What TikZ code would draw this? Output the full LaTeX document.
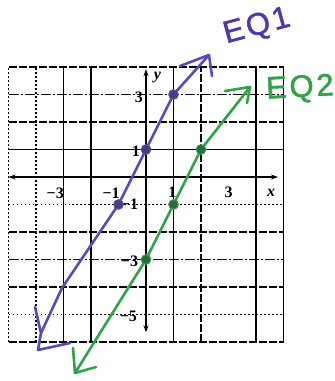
\documentclass[tikz,border=0pt]{standalone}
\usepackage{fontspec}
\setmainfont{Liberation Serif}
\newfontfamily\handfont[FakeBold=1.6,LetterSpace=9]{Liberation Sans}
\usetikzlibrary{arrows.meta}
\definecolor{eqone}{RGB}{82,76,188}
\definecolor{eqonelab}{RGB}{80,56,168}
\definecolor{eqtwo}{RGB}{48,162,72}
\definecolor{dotone}{RGB}{72,62,118}
\definecolor{dottwo}{RGB}{42,108,58}
\tikzset{
  gridsolid/.style={line width=1.4pt,black},
  griddash/.style={line width=1.4pt,black,dash pattern=on 8pt off 2pt},
  griddashdot/.style={line width=1.4pt,black,dash pattern=on 10pt off 2pt on 2pt off 2pt},
  griddot/.style={line width=1.2pt,black,dash pattern=on 1.6pt off 2.4pt},
  axisline/.style={line width=1.9pt,black,{Stealth[length=7pt,width=5pt]}-{Stealth[length=7pt,width=5pt]}},
  ticklab/.style={font=\fontsize{16}{16}\selectfont\bfseries,inner sep=0pt},
  axislab/.style={font=\fontsize{16}{16}\selectfont\bfseries\itshape,inner sep=0pt},
  dotA/.style={circle,fill=dotone,draw=eqone,line width=0.8pt,minimum size=9.5pt,inner sep=0pt},
  dotB/.style={circle,fill=dottwo,draw=eqtwo,line width=0.8pt,minimum size=9.5pt,inner sep=0pt},
  handone/.style={line width=2.6pt,eqone,line cap=round,line join=round},
  handtwo/.style={line width=2.6pt,eqtwo,line cap=round,line join=round},
  handlab/.style={font=\handfont\fontsize{31}{31}\selectfont,inner sep=0pt},
}
\begin{document}
\begin{tikzpicture}[x=1pt,y=-1pt]
\useasboundingbox (0,0) rectangle (335,381);
\fill[white] (0,0) rectangle (335,381);
\begin{scope}[shift={(146,177)},x=27.5pt,y=27.5pt]
  % vertical grid lines
  \draw[griddot] (-5,-6) -- (-5,4);
  \draw[griddot] (-4,-6) -- (-4,4);
  \draw[gridsolid] (-3,-6) -- (-3,4);
  \draw[gridsolid] (-2,-6) -- (-2,4);
  \draw[gridsolid] (1,-6) -- (1,4);
  \draw[griddash] (2,-6) -- (2,4);
  \draw[gridsolid] (4,-6) -- (4,4);
  \draw[gridsolid] (5,-6) -- (5,4);
  % horizontal grid lines
  \draw[griddash] (-5,4) -- (5,4);
  \draw[griddashdot] (-5,3) -- (5,3);
  \draw[griddash] (-5,2) -- (5,2);
  \draw[gridsolid] (-5,1) -- (5,1);
  \draw[griddot] (-5,-1) -- (5,-1);
  \draw[griddash] (-5,-2) -- (5,-2);
  \draw[griddashdot] (-5,-3) -- (5,-3);
  \draw[griddash] (-5,-4) -- (5,-4);
  \draw[griddot] (-5,-5) -- (5,-5);
  \draw[griddash] (-5,-6) -- (5,-6);
  % axes
  \draw[axisline] (-5,0) -- (4.8,0);
  \draw[axisline] (0,-5.65) -- (0,3.92);
  % labels
  \node[axislab] (ly) at (0.42,3.6) {y};
  \node[axislab] (lx) at (4.55,-0.56) {x};
  \node[ticklab] (y3) at (-0.26,2.9) {3};
  \node[ticklab] (y1) at (-0.37,0.95) {1};
  \node[ticklab] (ym1) at (-0.6,-1.0) {−1};
  \node[ticklab] (ym3) at (-0.6,-3.05) {−3};
  \node[ticklab] (ym5) at (-0.64,-5.05) {−5};
  \node[ticklab] (xm3) at (-3.3,-0.6) {−3};
  \node[ticklab] (xm1) at (-1.27,-0.6) {−1};
  \node[ticklab] (x1) at (0.96,-0.54) {1};
  \node[ticklab] (x3) at (3.0,-0.54) {3};
  % points
  \node[dotA] (a1) at (0,1) {};
  \node[dotA] (a2) at (1,3) {};
  \node[dotA] (a3) at (-1,-1) {};
  \node[dotB] (b1) at (0,-3) {};
  \node[dotB] (b2) at (1,-1) {};
  \node[dotB] (b3) at (2,1) {};
\end{scope}
% EQ1 hand-drawn line
\coordinate (e1m) at (62,288);
\coordinate (e1b) at (41,333);
\coordinate (e1t) at (209,55);
\coordinate (e1bl) at (35,307);
\coordinate (e1btip) at (38,350);
\coordinate (e1br) at (70,343);
\coordinate (e1tl) at (180,66);
\coordinate (e1tr) at (212,76);
\draw[handone] (e1t) -- (a2.center) -- (a1.center) -- (a3.center) -- (e1m) -- (e1b);
\draw[handone] (e1bl) -- (e1b) -- (e1btip) -- (e1br);
\draw[handone] (e1tl) -- (e1t) -- (e1tr);
% EQ2 hand-drawn line
\coordinate (e2b) at (75,373);
\coordinate (e2t) at (250,87);
\coordinate (e2bl) at (73,348);
\coordinate (e2br) at (96,367);
\coordinate (e2tl) at (225,91);
\coordinate (e2tr) at (247,103);
\draw[handtwo] (e2t) -- (b3.center) -- (b2.center) -- (b1.center) -- (e2b);
\draw[handtwo] (e2bl) -- (e2b) -- (e2br);
\draw[handtwo] (e2tl) -- (e2t) -- (e2tr);
% redraw dots on top
\node[dotA] at (a1) {};
\node[dotA] at (a2) {};
\node[dotA] at (a3) {};
\node[dotB] at (b1) {};
\node[dotB] at (b2) {};
\node[dotB] at (b3) {};
% hand labels
\node[handlab,text=eqonelab,rotate=15] (l1) at (257,27) {EQ1};
\node[handlab,text=eqtwo,rotate=3] (l2) at (300,89) {EQ2};
\end{tikzpicture}
\end{document}
